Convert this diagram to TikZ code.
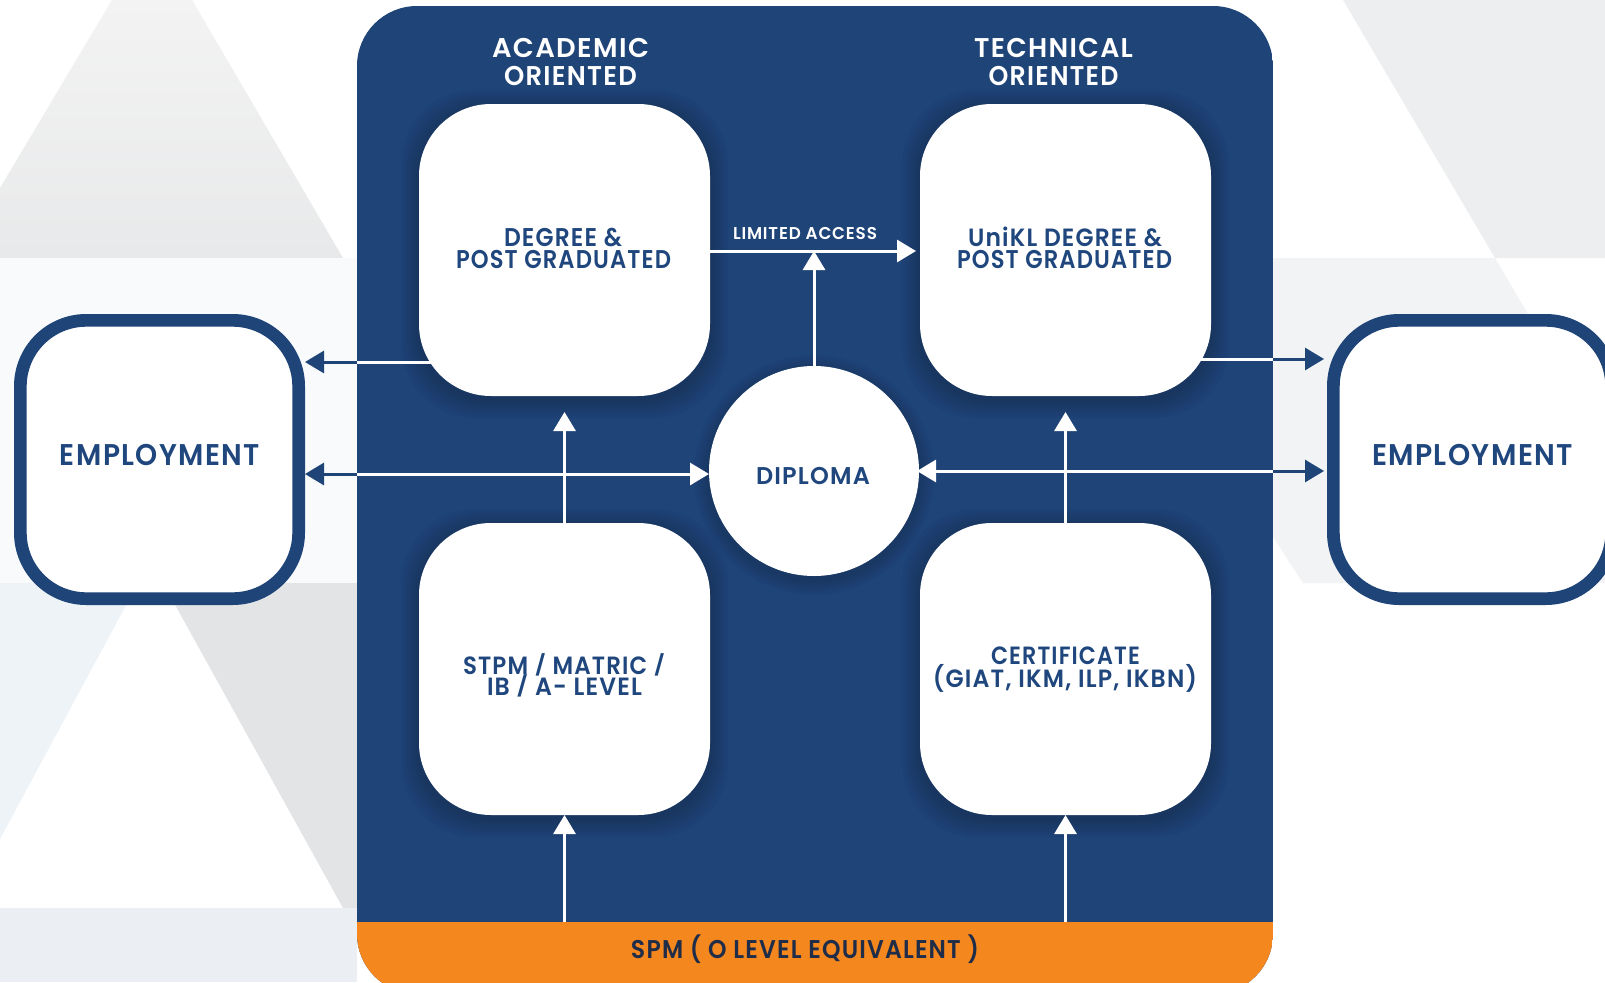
\documentclass[tikz,border=0pt]{standalone}
\usepackage{fontspec}
\setmainfont{Poppins}[BoldFont={* SemiBold},LetterSpace=5]
\usepackage{graphicx}
\usetikzlibrary{arrows.meta}
\definecolor{navy}{HTML}{1E4478}
\definecolor{navytext}{HTML}{1F477E}
\definecolor{spmtext}{HTML}{1F2D49}
\definecolor{orng}{HTML}{F5871F}
\definecolor{bgtopa}{HTML}{F3F3F3}
\definecolor{bgtopb}{HTML}{E8E9EA}
\definecolor{bgmidl}{HTML}{F8FAFC}
\definecolor{bgblue}{HTML}{EEF3F8}
\definecolor{bglow}{HTML}{E3E4E6}
\definecolor{bgbot}{HTML}{EBEEF2}
\definecolor{bgtopr}{HTML}{EDEEEF}
\definecolor{bgmidr}{HTML}{F2F3F4}
\newcommand{\fitline}[3]{\resizebox{#1pt}{#2pt}{\raisebox{0pt}[\fontcharht\font`H][0pt]{#3}}}
\newcommand{\slsh}{\raisebox{0.06em}{\scalebox{1}[0.8]{/}}}
\pgfdeclarelayer{back}
\pgfdeclarelayer{shade}
\pgfdeclarelayer{lines}
\pgfsetlayers{back,shade,lines,main}
\begin{document}
\begin{tikzpicture}[x=1pt,y=-1pt,
  card/.style={fill=white,rounded corners=72pt,minimum width=291pt,minimum height=292pt,inner sep=0pt,outer sep=0pt},
  empbox/.style={fill=white,draw=navy,line width=12.7pt,rounded corners=66pt,minimum width=278.3pt,minimum height=278.3pt,inner sep=0pt},
  dipcircle/.style={circle,fill=white,minimum size=210pt,inner sep=0pt,outer sep=0pt},
  txt/.style={inner sep=0pt,outer sep=0pt,anchor=base,font=\fontsize{20}{24}\bfseries},
  wline/.style={draw=white,line width=3pt},
  nline/.style={draw=navy,line width=3pt},
  warrow/.style={wline,-{Triangle[length=19pt,width=22pt]}},
  narrow/.style={nline,-{Triangle[length=19pt,width=22pt]}}]
\useasboundingbox (0,0) rectangle (1605,982);
\clip (0,0) rectangle (1605,982);
\begin{pgfonlayer}{back}
\fill[white] (0,0) rectangle (1605,982);
% left background
\shade[top color=bgtopa,bottom color=bgtopb] (112,0) -- (192,0) -- (343,258) -- (0,258) -- (0,188) -- cycle;
\fill[bgmidl] (0,258) rectangle (357,583);
\fill[bgblue] (0,583) -- (138,583) -- (0,839) -- cycle;
\fill[bglow] (163,583) -- (357,583) -- (357,908) -- (343,908) -- cycle;
\fill[bgbot] (0,908) rectangle (357,982);
% right background
\fill[bgtopr] (1343,0) -- (1605,0) -- (1605,258) -- (1495,258) -- cycle;
\fill[bgmidr] (1273,258) -- (1495,258) -- (1605,445) -- (1605,583) -- (1303,583) -- (1273,537) -- cycle;
% panel
\begin{scope}
\clip[rounded corners=60pt] (357,6) rectangle (1273,994);
\fill[navy] (357,6) rectangle (1273,994);
\fill[orng] (357,922) rectangle (1273,994);
\end{scope}
\end{pgfonlayer}
\begin{pgfonlayer}{shade}
\foreach \cx/\cy in {564.5/250,1065.5/250,564.5/669,1065.5/669}{
  \foreach \s in {3,6,...,18}{
    \fill[black,opacity=0.03,rounded corners=74pt] ({\cx-145.5-\s},{\cy-146-\s+4}) rectangle ({\cx+145.5+\s},{\cy+146+\s+4});
  }
}
\foreach \s in {3,6,...,15}{
  \fill[black,opacity=0.03] (814,475) circle ({105+\s});
}
\end{pgfonlayer}
\node[minimum width=916pt,minimum height=988pt,inner sep=0pt,outer sep=0pt] (panel) at (815,500) {};
\coordinate (spmtop) at (815,922);
\coordinate (laY) at (0,251);
\coordinate (yA) at (0,362);
\coordinate (yB) at (0,474);
\coordinate (yC) at (0,359);
\coordinate (yD) at (0,471);
% boxes
\node[card] (deg) at (564.5,250) {};
\node[card] (uni) at (1065.5,250) {};
\node[card] (stpm) at (564.5,669) {};
\node[card] (cert) at (1065.5,669) {};
\node[dipcircle] (dip) at (814,471) {};
\node[empbox] (empL) at (159.5,459.5) {};
\node[empbox] (empR) at (1472.5,459.5) {};
% texts
\node[txt,text=white] (tAca1) at (570.5,58) {\fitline{157}{19}{ACADEMIC}};
\node[txt,text=white] (tAca2) at (570.5,85) {\fitline{133}{19}{ORIENTED}};
\node[txt,text=white] (tTec1) at (1053.5,58) {\fitline{159}{19}{TECHNICAL}};
\node[txt,text=white] (tTec2) at (1053.5,85) {\fitline{130}{19}{ORIENTED}};
\node[txt,text=navytext] (tDeg1) at (563,246.5) {\fitline{118}{18}{DEGREE \&}};
\node[txt,text=navytext] (tDeg2) at (563.5,268) {\fitline{215}{18}{POST GRADUATED}};
\node[txt,text=navytext] (tUni1) at (1065,246.5) {\fitline{194}{17.5}{UniKL DEGREE \&}};
\node[txt,text=navytext] (tUni2) at (1064.5,268) {\fitline{215}{18}{POST GRADUATED}};
\node[txt,text=navytext] (tStp1) at (564,674) {\fitline{202}{17.5}{STPM \slsh{} MATRIC \slsh}};
\node[txt,text=navytext] (tStp2) at (564.5,695) {\fitline{155}{17.5}{IB \slsh{} A- LEVEL}};
\node[txt,text=navytext] (tCer1) at (1065.5,664) {\fitline{149}{17.5}{CERTIFICATE}};
\node[txt,text=navytext] (tCer2) at (1065,687) {\fitline{264}{17.5}{(GIAT, IKM, ILP, IKBN)}};
\node[txt,text=navytext] (tDip) at (813,484) {\fitline{114}{17}{DIPLOMA}};
\node[txt,text=navytext] (tEmpL) at (160,465) {\fitline{200}{21}{EMPLOYMENT}};
\node[txt,text=navytext] (tEmpR) at (1472.5,465) {\fitline{201}{21}{EMPLOYMENT}};
\node[txt,text=white] (tLim) at (805,239) {\fitline{144}{12}{LIMITED ACCESS}};
\node[txt,text=spmtext] (spm) at (805,958) {\fitline{348}{18}{SPM ( O LEVEL EQUIVALENT )}};
% connectors
\begin{pgfonlayer}{lines}
\draw[warrow,shorten >=4pt] (deg.east |- laY) -- (uni.west |- laY);
\draw[warrow] (dip.north) -- (dip.north |- laY);
\draw[warrow,shorten >=16pt] (stpm.north) -- (deg.south);
\draw[warrow,shorten >=16pt] (cert.north) -- (uni.south);
\draw[warrow] (stpm.south |- spmtop) -- (stpm.south);
\draw[warrow] (cert.south |- spmtop) -- (cert.south);
\draw[wline] (deg.center |- yA) -- (panel.west |- yA);
\draw[narrow] (panel.west |- yA) -- (empL.east |- yA);
\draw[warrow] (panel.west |- yB) -- (dip.west |- yB);
\draw[narrow] (panel.west |- yB) -- (empL.east |- yB);
\draw[wline] (uni.center |- yC) -- (panel.east |- yC);
\draw[narrow,shorten >=3pt] (panel.east |- yC) -- (empR.west |- yC);
\draw[warrow,shorten >=-2pt] (panel.east |- yD) -- (dip.east);
\draw[narrow,shorten >=3pt] (panel.east |- yD) -- (empR.west |- yD);
\end{pgfonlayer}
\end{tikzpicture}
\end{document}
